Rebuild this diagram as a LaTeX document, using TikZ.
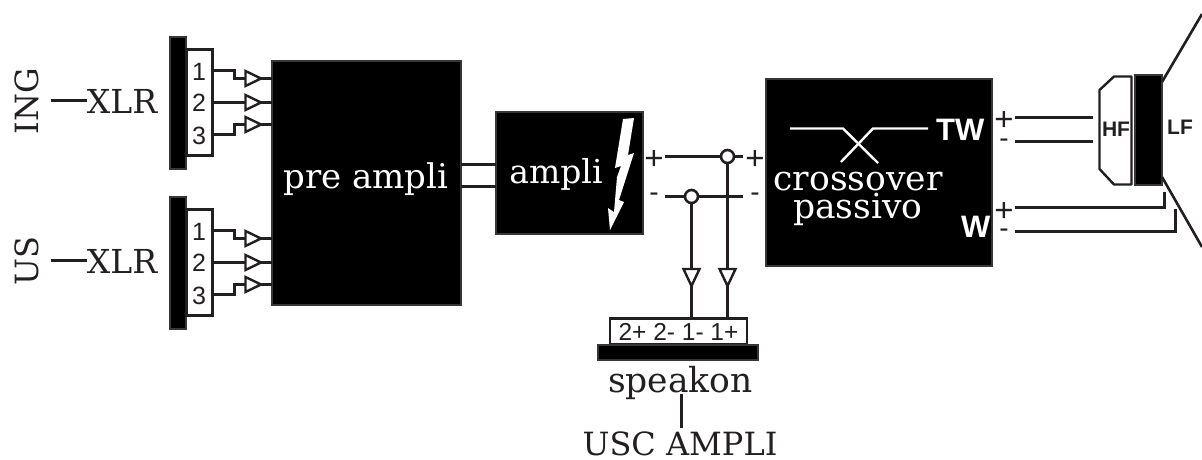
\documentclass[tikz,border=0pt]{standalone}
\usepackage{fontspec}
\setmainfont{DejaVu Serif}
\setsansfont{Liberation Sans}
\usetikzlibrary{calc}
\definecolor{ink}{HTML}{231F20}
\newcommand{\fs}[1]{\fontsize{#1}{#1}\selectfont}
\tikzset{
  wire/.style={draw=ink,line width=2.6pt},
  thinwire/.style={draw=white,line width=2.4pt},
  blockbox/.style={draw=ink!90,fill=black,line width=1.6pt,minimum width=#1,inner sep=0pt,outer sep=0pt},
  termbox/.style={draw=ink,fill=white,line width=2.6pt,inner sep=0pt,outer sep=0pt},
  serif/.style={font=\rmfamily\fs{#1},inner sep=0pt,text=ink,anchor=base},
  serifw/.style={font=\rmfamily\fs{#1},inner sep=0pt,text=white,anchor=base},
  digit/.style={font=\sffamily\fs{25},inner sep=0pt,text=ink,anchor=base},
  boldw/.style={font=\sffamily\bfseries\fs{31},inner sep=0pt,text=white,anchor=base},
  boldk/.style={font=\sffamily\bfseries\fs{21},inner sep=0pt,text=ink,anchor=base},
  plussign/.style={font=\sffamily\fs{33},inner sep=0pt,text=ink,anchor=center},
  minussign/.style={font=\sffamily\fs{28},inner sep=0pt,text=ink,anchor=center},
  buf/.style={draw=ink,fill=white,line width=2.4pt,line join=miter},
  junction/.style={circle,draw=ink,fill=white,line width=2.6pt,minimum size=13pt,inner sep=0pt,outer sep=0pt},
}
\begin{document}
\begin{tikzpicture}[x=1pt,y=-1pt]
\useasboundingbox (0,0) rectangle (1202,459);
% main blocks
\node[blockbox=189pt,minimum height=244pt] (pre) at (366.5,183) {};
\node[blockbox=147pt,minimum height=122pt] (amp) at (569.5,173) {};
\node[blockbox=226pt,minimum height=187pt] (cross) at (879,172.5) {};
% input connectors
\node[blockbox=16pt,minimum height=132pt] (barA) at (178,103) {};
\node[termbox,minimum width=26pt,minimum height=106pt] (termA) at (199.5,102.5) {};
\node[blockbox=16pt,minimum height=132pt] (barB) at (178,263) {};
\node[termbox,minimum width=26pt,minimum height=106pt] (termB) at (199.5,262.5) {};
\foreach \t/\o in {A/0,B/160}{
  \node[digit] at (199,80+\o) {1};
  \node[digit] at (199,111+\o) {2};
  \node[digit] at (199,144+\o) {3};
  \draw[wire] (termA.east |- 0,70.5+\o) -| (234.5,78.5+\o) -- (pre.west |- 0,78.5+\o);
  \draw[wire] (termA.east |- 0,102.5+\o) -- (pre.west |- 0,102.5+\o);
  \draw[wire] (termA.east |- 0,134.5+\o) -| (234.5,124.5+\o) -- (pre.west |- 0,124.5+\o);
  \foreach \y in {78.5,102.5,124.5}
    \draw[buf] (245.5,\y+\o-7.5) -- (261,\y+\o) -- (245.5,\y+\o+7.5) -- cycle;
}
% input labels
\node[serif=32,rotate=90,anchor=center] (ing) at (27,101) {ING};
\node[serif=32,rotate=90,anchor=center] (us) at (27,261) {US};
\node[serif=33] (xlrA) at (122,113) {XLR};
\node[serif=33] (xlrB) at (122,273) {XLR};
\coordinate (ingend) at (51,100.5);
\coordinate (usend) at (51,260.5);
\draw[wire] (ingend) -- (xlrA.west |- ingend);
\draw[wire] (usend) -- (xlrB.west |- usend);
% block labels
\node[serifw=34] at (366,188) {pre ampli};
\node[serifw=33] at (556,183) {ampli};
\node[serifw=34.5] at (858,190) {crossover};
\node[serifw=34.5] at (858,218) {passivo};
% pre to amp
\draw[wire] (pre.east |- 0,164.5) -- (amp.west |- 0,164.5);
\draw[wire] (pre.east |- 0,186.5) -- (amp.west |- 0,186.5);
% lightning
\fill[white] (623,119) -- (634,118) -- (628,155) -- (634,153) -- (619,200) -- (624,202) -- (610,230) -- (608,208) -- (614,212) -- (617,177) -- (621,166) -- (615,168) -- cycle;
% crossover symbol
\draw[thinwire] (790,128.5) -- (843,128.5) -- (878,163);
\draw[thinwire] (841,162) -- (873,128.5) -- (928,128.5);
\node[boldw,anchor=base west] at (936,140) {TW};
\node[boldw,anchor=base west] at (961,237) {W};
% speakon
\node[termbox,minimum width=137pt,minimum height=26pt] (spk) at (678.5,331.5) {};
\node[blockbox=160pt,minimum height=15pt] (spkbar) at (678,352.5) {};
\node[font=\sffamily\fs{24.5},inner sep=0pt,text=ink,anchor=base] at (678.5,340) {2+ 2- 1- 1+};
\node[serif=34.5] (speakon) at (680.5,392) {speakon};
\node[serif=32] (usc) at (680,455) {USC AMPLI};
\coordinate (uscline) at (681.5,394);
\coordinate (uscend) at (681.5,428);
\draw[wire] (uscline) -- (uscend);
% amp outputs
\coordinate (pa) at (665,156.5);
\coordinate (pb) at (743,156.5);
\coordinate (ma) at (665,196.5);
\coordinate (mb) at (743,196.5);
\draw[wire] (pa) -- (pb);
\draw[wire] (ma) -- (mb);
\draw[wire] (727.5,156.5) -- (727.5,318);
\draw[wire] (691.5,196.5) -- (691.5,318);
\node[junction] (jp) at (727.5,156.5) {};
\node[junction] (jm) at (691.5,196.5) {};
\foreach \x in {691.5,727.5}
  \draw[buf] (\x-8,269) -- (\x+8,269) -- (\x,286) -- cycle;
\node[plussign] at (654,160) {+};
\node[minussign] at (654,197) {-};
\node[plussign] at (755,160) {+};
\node[minussign] at (755,197) {-};
% driver
\draw[draw=ink,fill=white,line width=2.4pt,line join=round] (1099.5,90) -- (1114,76.5) -- (1131.5,76.5) -- (1131.5,184.5) -- (1114,184.5) -- (1099.5,169) -- cycle;
\node[blockbox=27pt,minimum height=110pt] (lf) at (1148.5,130) {};
\node[boldk] at (1116,136) {HF};
\node[boldk] at (1180,134) {LF};
\coordinate (coneA) at (1202,14);
\coordinate (coneB) at (1202,247);
\draw[wire] (1162,82) -- (coneA);
\draw[wire] (1162,177) -- (coneB);
\node[plussign] at (1004,121) {+};
\node[minussign] at (1004,143) {-};
\node[plussign] at (1004,212) {+};
\node[minussign] at (1004,233) {-};
\draw[wire] (1015,117.5) -- (1093,117.5);
\draw[wire] (1015,141.5) -- (1093,141.5);
\draw[wire] (1015,207.5) -| (1164.5,192);
\draw[wire] (1015,231.5) -| (1175.5,209);
\end{tikzpicture}
\end{document}
